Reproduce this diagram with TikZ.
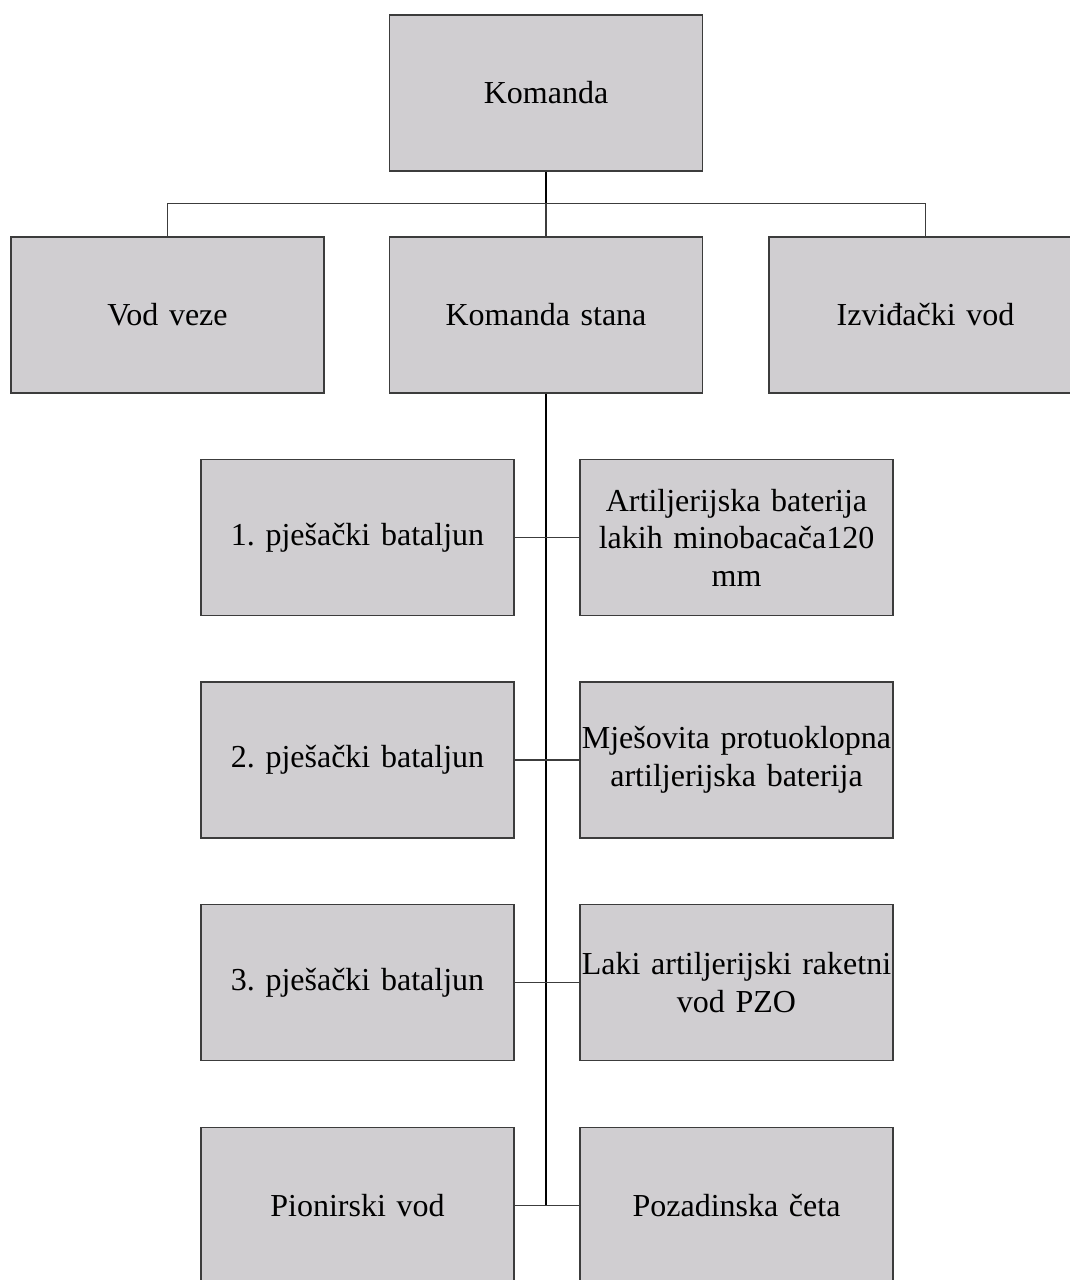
\documentclass[tikz,border=0pt]{standalone}
\usepackage{fontspec}
\setmainfont[WordSpace={0.85,0.5,0.5}]{Liberation Serif}
\definecolor{boxfill}{RGB}{208,206,209}
\definecolor{boxline}{RGB}{60,60,60}
\begin{document}
\frenchspacing
\begin{tikzpicture}[x=1pt,y=-1pt,
  unit/.style={draw=boxline, line width=1.4pt, fill=boxfill, minimum width=313pt, minimum height=156pt,
    inner sep=0pt, text width=312pt, align=center, font=\fontsize{32pt}{37.5pt}\selectfont},
  link/.style={draw=boxline, line width=1.6pt},
  spine/.style={draw=black, line width=2.2pt}]
\clip (0,0) rectangle (1070,1280);
\fill[white] (0,0) rectangle (1070,1280);
\node[unit] (kom) at (546,93) {Komanda};
\node[unit] (vv) at (167.5,315) {Vod veze};
\node[unit] (ks) at (546,315) {Komanda stana};
\node[unit] (iv) at (925.5,315) {Izviđački vod};
\node[unit] (b1) at (357.5,537.5) {1. pješački bataljun};
\node[unit] (ab) at (736.5,537.5) {Artiljerijska baterija\\lakih minobacača120\\mm};
\node[unit] (b2) at (357.5,760) {2. pješački bataljun};
\node[unit] (mp) at (736.5,760) {Mješovita protuoklopna\\artiljerijska baterija};
\node[unit] (b3) at (357.5,982.5) {3. pješački bataljun};
\node[unit] (la) at (736.5,982.5) {Laki artiljerijski raketni\\vod PZO};
\node[unit] (pv) at (357.5,1205.5) {Pionirski vod};
\node[unit] (pc) at (736.5,1205.5) {Pozadinska četa};
\coordinate (bus) at (546,203.5);
\coordinate (end) at (546,1205.5);
\draw[spine] (kom.south) -- (bus);
\draw[link] (vv.north) |- (bus) -| (iv.north);
\draw[link] (bus) -- (ks.north);
\draw[spine] (ks.south) -- (end);
\draw[link] (b1.east) -- (ab.west);
\draw[link] (b2.east) -- (mp.west);
\draw[link] (b3.east) -- (la.west);
\draw[link] (pv.east) -- (pc.west);
\end{tikzpicture}
\end{document}
